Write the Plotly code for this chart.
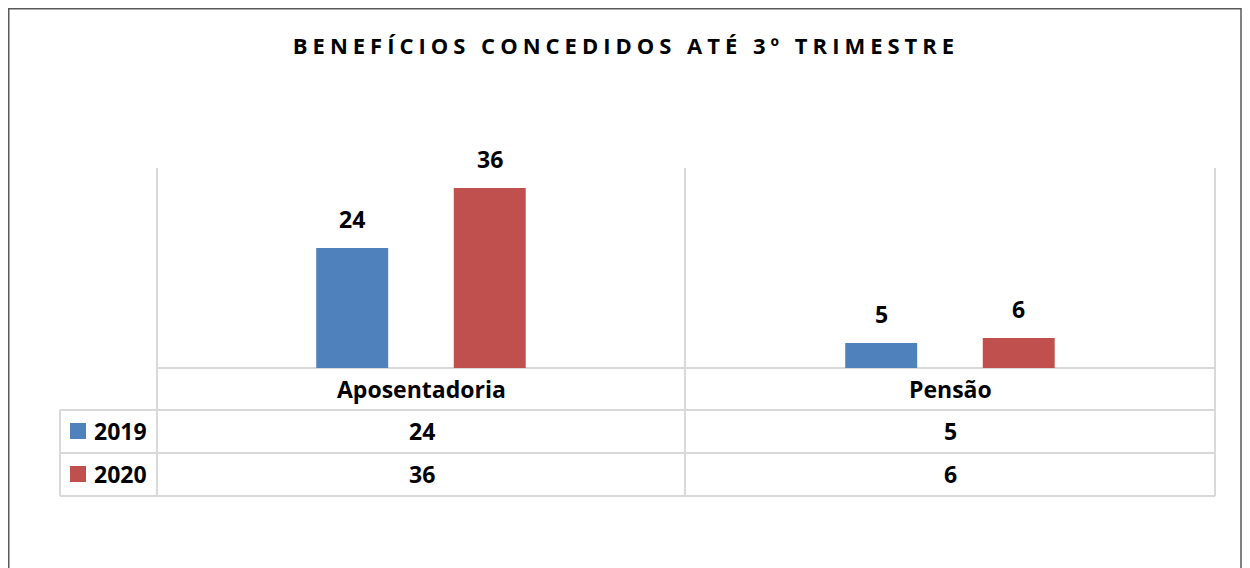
import plotly.graph_objects as go

# ---- data ----
categories = ["Aposentadoria", "Pensão"]
series_names = ["2019", "2020"]
values_2019 = [24, 5]
values_2020 = [36, 6]
series_colors = ["#4F81BD", "#C0504D"]
title_text = "BENEFÍCIOS CONCEDIDOS ATÉ 3º TRIMESTRE"

# ---- layout geometry (screen pixels; page body has an 8px margin) ----
W, H = 1250, 568
OFF = 8
L, R, T, B = 157, 1215, 168, 368  # plot area on screen


def px(x):
    return (x - L) / (R - L)


def py(y):
    return (B - y) / (B - T)


series = [values_2019, values_2020]
bar_w = 0.136
offsets = [-0.199, 0.061]
FONT = "Open Sans"
FS = 23
GRID = "#D9D9D9"

fig = go.Figure()
for name, vals, col, off in zip(series_names, series, series_colors, offsets):
    fig.add_trace(go.Bar(
        x=list(range(len(categories))), y=vals, name=name,
        marker=dict(color=col, line=dict(width=0)),
        width=bar_w, offset=off, showlegend=False, hoverinfo="skip",
    ))

annotations = []
# labels above bars
for vals, off in zip(series, offsets):
    for i, v in enumerate(vals):
        annotations.append(dict(
            x=i + off + bar_w / 2, y=v, xref="x", yref="y",
            text=str(v), showarrow=False, yanchor="bottom", yshift=11,
            font=dict(family=FONT, size=FS, color="black", weight="bold"),
        ))

# data table: header row (categories)
row_y = [389, 431, 474]
for i, c in enumerate(categories):
    annotations.append(dict(
        x=i, y=py(row_y[0]), xref="x", yref="paper", text=c, showarrow=False,
        yanchor="middle", font=dict(family=FONT, size=FS, color="black", weight="bold"),
    ))
# data rows
shapes = []
for r, (name, vals, col) in enumerate(zip(series_names, series, series_colors)):
    yy = row_y[r + 1]
    annotations.append(dict(
        x=px(92), y=py(yy), xref="paper", yref="paper", text=name, showarrow=False,
        xanchor="left", yanchor="middle",
        font=dict(family=FONT, size=FS, color="black", weight="bold"),
    ))
    shapes.append(dict(type="rect", xref="paper", yref="paper",
                       x0=px(70), x1=px(86), y0=py(yy - 8), y1=py(yy + 8),
                       fillcolor=col, line=dict(width=0)))
    for i, v in enumerate(vals):
        annotations.append(dict(
            x=i, y=py(yy), xref="x", yref="paper", text=str(v), showarrow=False,
            yanchor="middle", font=dict(family=FONT, size=FS, color="black", weight="bold"),
        ))


# grid / table lines
def hline(x0, x1, y):
    shapes.append(dict(type="line", xref="paper", yref="paper", x0=px(x0), x1=px(x1),
                       y0=py(y), y1=py(y), line=dict(color=GRID, width=2), layer="below"))


def vline(x, y0, y1):
    shapes.append(dict(type="line", xref="paper", yref="paper", x0=px(x), x1=px(x),
                       y0=py(y0), y1=py(y1), line=dict(color=GRID, width=2), layer="below"))


hline(157, 1215, 368)
hline(60, 1215, 410)
hline(60, 1215, 453)
hline(60, 1215, 496)
vline(157, 168, 496)
vline(685, 168, 496)
vline(1215, 168, 496)
vline(60, 410, 496)

# outer chart border
shapes.append(dict(type="rect", xref="paper", yref="paper",
                   x0=px(8.75), x1=px(1241), y0=py(8.75), y1=py(640),
                   line=dict(color="#595959", width=1.5), fillcolor="rgba(0,0,0,0)"))

fig.update_layout(
    width=W, height=H,
    margin=dict(l=L - OFF, r=W - (R - OFF), t=T - OFF, b=H - (B - OFF), pad=0),
    paper_bgcolor="white", plot_bgcolor="white",
    barmode="overlay",
    title=dict(
        text='<span style="letter-spacing:5px">' + title_text + '</span>',
        x=(626 - OFF) / W, xref="container", xanchor="center",
        y=1 - (46 - OFF) / H, yref="container", yanchor="middle",
        font=dict(family=FONT, size=22, color="black", weight="bold"),
    ),
    xaxis=dict(range=[-0.5, len(categories) - 0.5], showticklabels=False, showgrid=False,
               zeroline=False, showline=False, ticks=""),
    yaxis=dict(range=[0, 40], showticklabels=False, showgrid=False, zeroline=False,
               showline=False, ticks=""),
    annotations=annotations,
    shapes=shapes,
)

fig.write_html("out.html")
